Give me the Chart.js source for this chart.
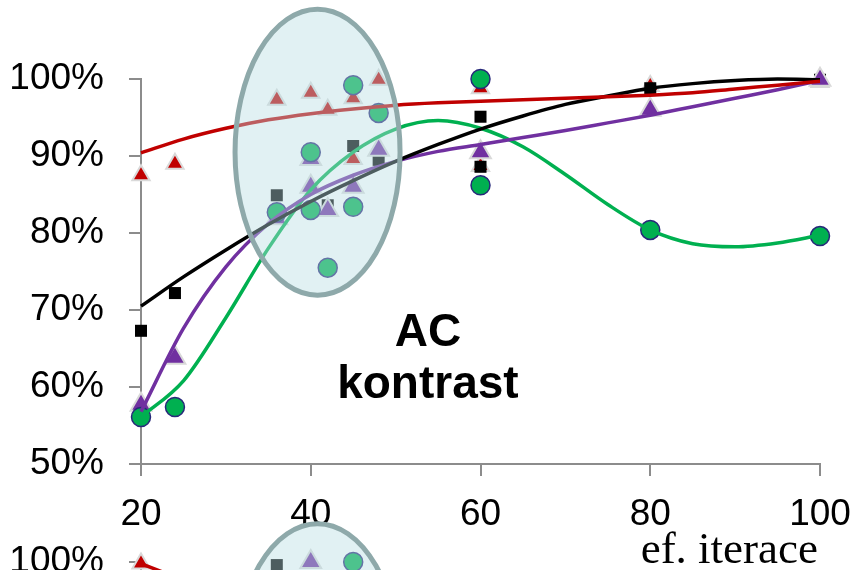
<!DOCTYPE html>
<html>
<head>
<meta charset="utf-8">
<script src="https://cdn.jsdelivr.net/npm/chart.js@4/dist/chart.umd.min.js"></script>
<style>
  body { margin: 0; background: #fff; }
  #wrap { position: relative; width: 854px; height: 570px; overflow: hidden; }
  #wrap canvas { position: absolute; left: 0; }
</style>
</head>
<body>
<div id="wrap">
  <canvas id="top" width="854" height="570" style="top:0"></canvas>
  <canvas id="low" width="854" height="570" style="top:483px"></canvas>
</div>
<script>
//measured points (x = ef. iterace, y = percent)
const redX = [20, 24, 36, 40, 42, 45, 45, 48, 60, 60, 80, 100];
const redY = [87.5, 89.0, 97.3, 98.2, 96.0, 97.5, 89.6, 99.9, 98.8, 88.7, 99.1, 99.6];
const blackX = [20, 24, 36, 42, 45, 48, 60, 60, 80, 100];
const blackY = [67.3, 72.2, 84.9, 83.6, 91.3, 89.5, 95.1, 88.6, 98.8, 99.9];
const purpleX = [20, 24, 36, 40, 40, 42, 45, 48, 60, 80, 100];
const purpleY = [57.7, 63.8, 81.9, 86.0, 89.6, 83.0, 86.0, 90.8, 90.5, 96.0, 99.9];
const greenX = [20, 24, 36, 40, 40, 42, 45, 45, 48, 60, 60, 80, 100];
const greenY = [56.1, 57.4, 82.7, 90.5, 83.0, 75.5, 99.2, 83.4, 95.6, 100.0, 86.2, 80.4, 79.6];

//trend lines
const trendX = [20, 25, 30, 35, 40, 45, 50, 55, 60, 65, 70, 75, 80, 85, 90, 95, 100];
const redTrend = [90.4, 92.2, 93.6, 94.7, 95.5, 96.1, 96.6, 96.9, 97.1, 97.3, 97.5, 97.7, 97.9, 98.2, 98.7, 99.2, 99.7];
const blackTrend = [70.5, 74.3, 77.8, 81.1, 84.1, 86.8, 89.3, 91.5, 93.5, 95.2, 96.7, 97.8, 98.8, 99.4, 99.8, 100.0, 99.9];
const purpleTrend = [56.8, 67.6, 75.6, 81.2, 85.0, 87.5, 89.3, 90.6, 91.5, 92.4, 93.3, 94.3, 95.3, 96.4, 97.5, 98.6, 99.8];
const greenTrend = [56.1, 60.8, 69.0, 78.0, 85.6, 90.5, 93.5, 94.6, 93.6, 91.2, 87.6, 83.7, 80.4, 78.6, 78.2, 78.7, 79.7];

//the part of the next chart that shows at the bottom
const lowRedX = [20];
const lowRedY = [99.8];
const lowBlackX = [36];
const lowBlackY = [99.6];
const lowPurpleX = [40];
const lowPurpleY = [100];
const lowGreenX = [45];
const lowGreenY = [100];
const lowRedTrendX = [20, 30];
const lowRedTrendY = [99.8, 95.5];

//axes
const xTicks = [20, 40, 60, 80, 100];
const yTicks = [50, 60, 70, 80, 90, 100];
const xTitle = "ef. iterace";
const noteLines = ["AC", "kontrast"];

const pts = (xs, ys) => xs.map((x, i) => ({ x: x, y: ys[i] }));

const markerSet = (xs, ys, style, radius, fill, border, borderW, order) => ({
  type: "scatter",
  data: pts(xs, ys),
  pointStyle: style,
  pointRadius: radius,
  pointBackgroundColor: fill,
  pointBorderColor: border,
  pointBorderWidth: borderW,
  order: order,
  clip: false,
});

const trendSet = (xs, ys, color) => ({
  type: "scatter",
  data: pts(xs, ys),
  showLine: true,
  borderColor: color,
  borderWidth: 3.5,
  pointRadius: 0,
  cubicInterpolationMode: "monotone",
  order: 0,
  clip: false,
});

//light blue ellipse drawn over the points, in data units
const ellipsePlugin = {
  id: "ellipse",
  afterDatasetsDraw(chart, args, opts) {
    const xs = chart.scales.x, ys = chart.scales.y;
    const cx = xs.getPixelForValue(opts.cx);
    const cy = ys.getPixelForValue(opts.cy);
    const rx = Math.abs(xs.getPixelForValue(opts.cx + opts.rx) - cx);
    const ry = Math.abs(ys.getPixelForValue(opts.cy + opts.ry) - cy);
    const ctx = chart.ctx;
    ctx.save();
    ctx.beginPath();
    ctx.ellipse(cx, cy, rx, ry, 0, 0, Math.PI * 2);
    ctx.fillStyle = "rgba(183,222,226,0.42)";
    ctx.fill();
    ctx.lineWidth = 5;
    ctx.strokeStyle = "#8ea9aa";
    ctx.stroke();
    ctx.restore();
  },
};

//"AC kontrast" note and the axis title
const textPlugin = {
  id: "notes",
  afterDraw(chart, args, opts) {
    if (!opts.show) return;
    const ctx = chart.ctx;
    const xs = chart.scales.x, ys = chart.scales.y;
    ctx.save();
    ctx.fillStyle = "#000";
    ctx.textAlign = "center";
    ctx.textBaseline = "middle";
    ctx.font = "bold 46px 'Liberation Sans', Arial, sans-serif";
    const nx = xs.getPixelForValue(53.8);
    ctx.fillText(noteLines[0], nx, ys.getPixelForValue(67.0));
    ctx.fillText(noteLines[1], nx, ys.getPixelForValue(60.2));
    ctx.font = "45px 'Liberation Serif', 'Times New Roman', serif";
    ctx.textAlign = "right";
    ctx.textBaseline = "alphabetic";
    ctx.fillText(xTitle, chart.chartArea.right - 2, chart.height - 7);
    ctx.restore();
  },
};

function makeChart(canvas, datasets, ellipse, showNotes) {
  return new Chart(canvas, {
    type: "scatter",
    data: { datasets: datasets },
    plugins: [ellipsePlugin, textPlugin],
    options: {
      responsive: false,
      animation: false,
      layout: { padding: { top: 79, right: 34, bottom: 0, left: 0 } },
      plugins: {
        legend: { display: false },
        tooltip: { enabled: false },
        ellipse: ellipse,
        notes: { show: showNotes },
      },
      scales: {
        x: {
          type: "linear",
          min: 20,
          max: 100,
          afterBuildTicks: (s) => { s.ticks = xTicks.map((v) => ({ value: v })); },
          afterFit: (s) => {
            s.height = 106;
            s.paddingLeft = 0;
            s.paddingRight = 0;
          },
          border: { color: "#8c8c8c", width: 2 },
          grid: { drawOnChartArea: false, tickLength: 12, color: "#8c8c8c", lineWidth: 2 },
          ticks: {
            color: "#000",
            padding: 17,
            maxRotation: 0,
            font: { family: "'Liberation Sans', Arial, sans-serif", size: 37 },
          },
        },
        y: {
          type: "linear",
          min: 50,
          max: 100,
          afterBuildTicks: (s) => { s.ticks = yTicks.map((v) => ({ value: v })); },
          afterFit: (s) => {
            s.width = 141;
            s.paddingTop = 0;
            s.paddingBottom = 0;
          },
          border: { color: "#8c8c8c", width: 2 },
          grid: { drawOnChartArea: false, tickLength: 12, color: "#8c8c8c", lineWidth: 2 },
          ticks: {
            color: "#000",
            padding: 25,
            callback: (v) => v + "%",
            font: { family: "'Liberation Sans', Arial, sans-serif", size: 37 },
          },
        },
      },
    },
  });
}

const triBorder = "#d9d9d9";
const circBorder = "#27287a";

makeChart(
  document.getElementById("top"),
  [
    trendSet(trendX, redTrend, "#c00000"),
    trendSet(trendX, blackTrend, "#000000"),
    trendSet(trendX, purpleTrend, "#7030a0"),
    trendSet(trendX, greenTrend, "#00b050"),
    markerSet(redX, redY, "triangle", 10, "#c00000", triBorder, 2, 4),
    markerSet(blackX, blackY, "rect", 8.5, "#000000", "#000000", 0, 3),
    markerSet(purpleX, purpleY, "triangle", 12, "#7030a0", triBorder, 2, 2),
    markerSet(greenX, greenY, "circle", 9.5, "#00b050", circBorder, 1.5, 1),
  ],
  { cx: 40.8, cy: 90.5, rx: 9.72, ry: 18.57 },
  true
);

makeChart(
  document.getElementById("low"),
  [
    trendSet(lowRedTrendX, lowRedTrendY, "#c00000"),
    markerSet(lowRedX, lowRedY, "triangle", 10, "#c00000", triBorder, 2, 4),
    markerSet(lowBlackX, lowBlackY, "rect", 8.5, "#000000", "#000000", 0, 3),
    markerSet(lowPurpleX, lowPurpleY, "triangle", 12, "#7030a0", triBorder, 2, 2),
    markerSet(lowGreenX, lowGreenY, "circle", 9.5, "#00b050", circBorder, 1.5, 1),
  ],
  { cx: 40.8, cy: 86.4, rx: 9.72, ry: 18.57 },
  false
);
</script>
</body>
</html>
